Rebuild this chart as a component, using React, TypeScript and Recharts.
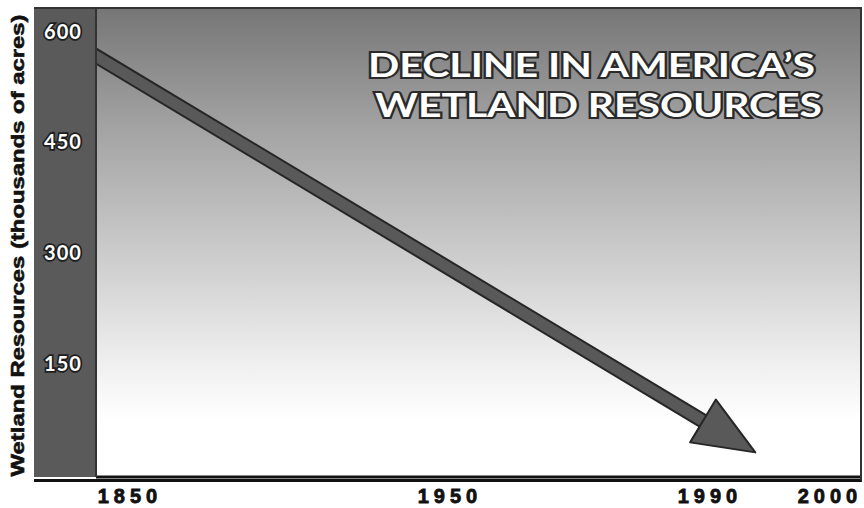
import React from "react";
import {
    ComposedChart, Line, XAxis, YAxis, ReferenceArea, Label
} from "recharts";

// --- data ---
// x is in layout units along the (uneven) time axis; ticks carry the year labels
const xTickPos = [32, 352, 612, 732];
const xTickLabels = ["1850", "1950", "1990", "2000"];
const yTicks = [150, 300, 450, 600];
// shaft of the arrow: start and the base of the head (head is drawn past the last point)
const arrowX = [-10, 607];
const arrowValues = [574, 71];

const arrowData = arrowX.map((x, i) => ({ x, v: arrowValues[i] }));

const COLORS = {
    band: "#5a5a5a",
    arrow: "#595959",
    outline: "#262626",
};

const YTick = ({ x, y, payload }: any) => (
    <text
        x={x - 33}
        y={y}
        textAnchor="middle"
        dominantBaseline="central"
        fill="#fff"
        stroke="#1e1e1e"
        strokeWidth={3.5}
        style={{ paintOrder: "stroke", fontFamily: "Lato", fontSize: 20, fontWeight: 700, letterSpacing: 1 }}
    >
        {payload.value}
    </text>
);

const XTick = ({ x, y, payload }: any) => {
    const idx = xTickPos.indexOf(payload.value);
    return (
        <text
            x={x + 2}
            y={y}
            dy={26}
            textAnchor="middle"
            fill="#111"
            stroke="#111"
            strokeWidth={0.8}
            style={{ fontFamily: "Liberation Sans", fontSize: 20, fontWeight: 900, letterSpacing: 5 }}
        >
            {idx >= 0 ? xTickLabels[idx] : ""}
        </text>
    );
};

// arrow head drawn beyond the last point, pointing along the shaft
const ArrowHead = (props: any) => {
    const { cx, cy, index, points } = props;
    if (index !== arrowData.length - 1 || cx == null) return <g key={`h-${index}`} />;
    let dx = 0.856, dy = 0.517;
    if (points && points.length > 1) {
        const p = points[points.length - 2];
        const len = Math.hypot(cx - p.x, cy - p.y) || 1;
        dx = (cx - p.x) / len;
        dy = (cy - p.y) / len;
    }
    const nx = -dy, ny = dx;
    const len = 61, half = 25;
    const tip = [cx + dx * len, cy + dy * len];
    const p1 = [cx + nx * half, cy + ny * half];
    const p2 = [cx - nx * half, cy - ny * half];
    return (
        <polygon
            key={`h-${index}`}
            points={`${tip[0]},${tip[1]} ${p1[0]},${p1[1]} ${p2[0]},${p2[1]}`}
            fill={COLORS.arrow}
            stroke={COLORS.outline}
            strokeWidth={2}
            strokeLinejoin="round"
        />
    );
};

const YLabel = ({ viewBox }: any) => {
    const cx = viewBox.x - 17;
    const cy = viewBox.y + viewBox.height / 2 + 3;
    return (
        <text
            x={cx}
            y={cy}
            transform={`rotate(-90 ${cx} ${cy})`}
            textAnchor="middle"
            dominantBaseline="central"
            textLength={462}
            lengthAdjust="spacingAndGlyphs"
            fill="#111"
            stroke="#111"
            strokeWidth={0.6}
            style={{ fontFamily: "Liberation Sans", fontSize: 19, fontWeight: 900 }}
        >
            Wetland Resources (thousands of acres)
        </text>
    );
};

export default function App() {
    return (
        <div style={{ position: "absolute", left: 0, top: 0, width: 864, height: 508, background: "#fff" }}>
            {/* dark band behind the y axis */}
            <div style={{ position: "absolute", left: 34, top: 8, width: 62, height: 469, background: COLORS.band }} />
            <div style={{ position: "absolute", left: 0, top: 0 }}>
                <ComposedChart width={864} height={508} data={arrowData}
                    margin={{ top: 8, right: 2, left: 34, bottom: 0 }}>
                    <defs>
                        <linearGradient id="bgGrad" x1="0" y1="0" x2="0" y2="1">
                            <stop offset="0%" stopColor="#767676" />
                            <stop offset="25%" stopColor="#a2a2a2" />
                            <stop offset="50%" stopColor="#c8c8c8" />
                            <stop offset="75%" stopColor="#eeeeee" />
                            <stop offset="88%" stopColor="#ffffff" />
                            <stop offset="100%" stopColor="#ffffff" />
                        </linearGradient>
                    </defs>
                    <XAxis
                        type="number"
                        dataKey="x"
                        domain={[0, 766]}
                        ticks={xTickPos}
                        allowDataOverflow
                        height={31}
                        tickSize={0}
                        tickMargin={0}
                        tick={<XTick />}
                        axisLine={{ stroke: "#111", strokeWidth: 3 }}
                        tickLine={false}
                        interval={0}
                    />
                    <YAxis
                        type="number"
                        domain={[-5, 631]}
                        ticks={yTicks}
                        allowDataOverflow
                        width={62}
                        tickSize={0}
                        tickMargin={0}
                        tick={<YTick />}
                        axisLine={{ stroke: "#333", strokeWidth: 2 }}
                        tickLine={false}
                        interval={0}
                    >
                        <Label content={<YLabel />} />
                    </YAxis>
                    <ReferenceArea x1={0} x2={766} y1={-5} y2={631} fill="url(#bgGrad)" fillOpacity={1} stroke="none" />
                    <Line dataKey="v" stroke={COLORS.outline} strokeWidth={15} dot={false}
                        activeDot={false} isAnimationActive={false} strokeLinecap="butt" />
                    <Line dataKey="v" stroke={COLORS.arrow} strokeWidth={11} dot={<ArrowHead />}
                        activeDot={false} isAnimationActive={false} strokeLinecap="butt" />
                </ComposedChart>
            </div>
            {/* title */}
            <svg width={864} height={508} style={{ position: "absolute", left: 0, top: 0, pointerEvents: "none" }}>
                <g style={{ fontFamily: "Lato", fontWeight: 700, fontSize: 33 }}>
                    <text x={368} y={77} textLength={447} lengthAdjust="spacingAndGlyphs"
                        fill="#fff" stroke="#2a2a2a" strokeWidth={4} style={{ paintOrder: "stroke" }}>
                        DECLINE IN AMERICA’S
                    </text>
                    <text x={375} y={117} textLength={447} lengthAdjust="spacingAndGlyphs"
                        fill="#fff" stroke="#2a2a2a" strokeWidth={4} style={{ paintOrder: "stroke" }}>
                        WETLAND RESOURCES
                    </text>
                </g>
            </svg>
            {/* frame */}
            <div style={{
                position: "absolute", left: 34, top: 7, width: 826, height: 470,
                borderTop: "2px solid #333", borderRight: "2px solid #333",
                borderBottom: "3px solid #111", pointerEvents: "none"
            }} />
        </div>
    );
}
